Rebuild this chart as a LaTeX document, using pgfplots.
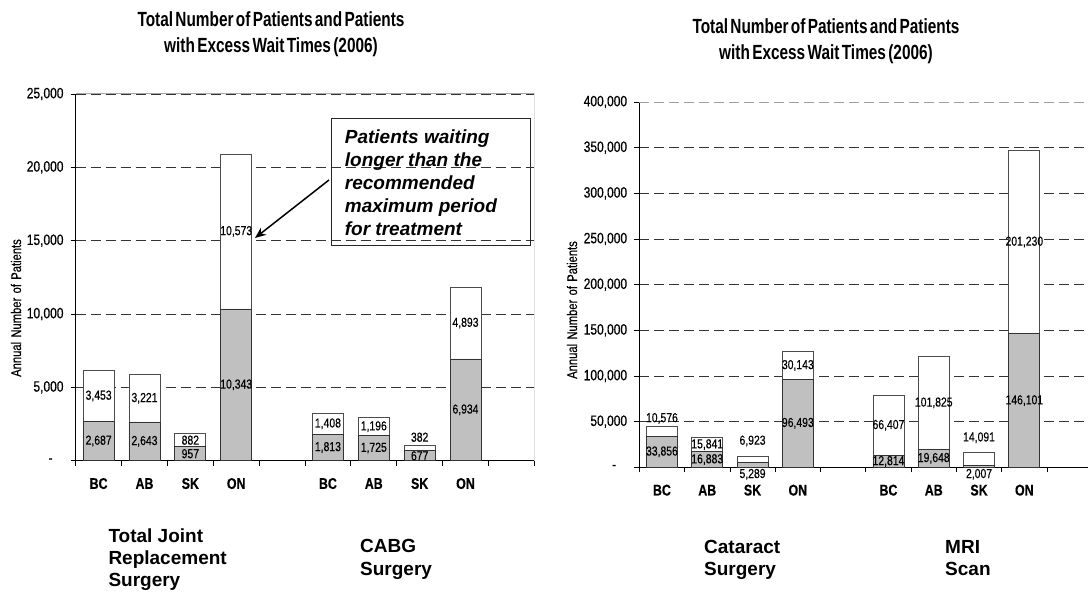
\documentclass[border=0pt]{standalone}
\usepackage{fontspec}
\setmainfont{Liberation Sans}
\newfontfamily\narrow[FakeStretch=0.8,FakeBold=0.4,WordSpace=1.4]{Liberation Sans}
\newfontfamily\titlefont[FakeStretch=0.75,WordSpace=0.55]{Liberation Sans}
\usepackage{pgfplots}
\pgfplotsset{compat=1.18}
\usetikzlibrary{arrows.meta}
\definecolor{barfill}{RGB}{192,192,192}

\pgfplotsset{
  waitbars/.style={
    scale only axis, anchor=south west,
    xmin=-0.5, xmax=9.5, ymin=0, enlarge x limits=false,
    scaled y ticks=false,
    axis lines*=left, axis line style={-, black, line width=1pt},
    ybar stacked, bar width=31pt,
    xtick={-0.5,0.5,...,9.5}, xticklabels={},
    extra x ticks={0,1,2,3,5,6,7,8},
    extra x tick labels={BC,AB,SK,ON,BC,AB,SK,ON},
    extra x tick style={major tick length=0pt,
      tick label style={font=\narrow\bfseries\fontsize{15.5}{16}\selectfont,
        anchor=north, inner sep=0pt, yshift=-17pt, text height=11pt}},
    tick align=outside, major tick length=5pt,
    tick style={black, line width=0.8pt},
    ymajorgrids, grid style={black!80, line width=0.7pt, dash pattern=on 10pt off 5pt},
    yticklabel style={font=\narrow\fontsize{15}{15}\selectfont, anchor=east, inner sep=0pt, xshift=-7pt},
  },
  labelax/.style={scale only axis, anchor=south west, xmin=-0.5, xmax=9.5, ymin=0,
    hide axis, clip=false},
  greybar/.style={fill=barfill, draw=black!80, line width=0.8pt},
  whitebar/.style={fill=white, draw=black!70, line width=0.8pt},
  barlbl/.style={only marks, mark=none, nodes near coords, point meta=explicit symbolic,
    every node near coord/.style={anchor=center, inner sep=0pt, black,
      font=\narrow\fontsize{13}{13}\selectfont}},
}

\begin{document}
\begin{tikzpicture}

% ---- left: joint replacement and CABG
\begin{axis}[waitbars, at={(75.7pt,131.3pt)}, width=458.6pt, height=366.7pt, ymax=25000,
  ytick={0,5000,...,25000},
  yticklabels={{-\hspace*{11pt}},{5,000},{10,000},{15,000},{20,000},{25,000}}]
\addplot[greybar] coordinates {(0,2687) (1,2643) (2,957) (3,10343) (5,1813) (6,1725) (7,677) (8,6934)};
\addplot[whitebar] coordinates {(0,3453) (1,3221) (2,882) (3,10573) (5,1408) (6,1196) (7,382) (8,4893)};
\draw[gray!70, line width=1pt] (rel axis cs:0,1) -- (rel axis cs:1,1) -- (rel axis cs:1,0);
\end{axis}
\begin{axis}[labelax, at={(75.7pt,131.3pt)}, width=458.6pt, height=366.7pt, ymax=25000]
\addplot[barlbl] table[meta=t, row sep=\\] {
x y t \\
0 1343.5 2,687 \\
0 4413.5 3,453 \\
1 1321.5 2,643 \\
1 4253.5 3,221 \\
2 478.5 957 \\
2 1398 882 \\
3 5171.5 10,343 \\
3 15629.5 10,573 \\
5 906.5 1,813 \\
5 2517 1,408 \\
6 862.5 1,725 \\
6 2323 1,196 \\
7 338.5 677 \\
7 1600 382 \\
8 3467 6,934 \\
8 9380.5 4,893 \\
};
\end{axis}

% ---- right: cataract and MRI
\begin{axis}[waitbars, at={(639.3pt,124.7pt)}, width=453pt, height=365.3pt, ymax=400000,
  ytick={0,50000,...,350000},
  yticklabels={{-\hspace*{11pt}},{50,000},{100,000},{150,000},{200,000},{250,000},{300,000},{350,000}},
  extra y ticks={400000}, extra y tick labels={400{,}000},
  extra y tick style={grid=major, grid style={gray!75, line width=0.9pt, dash pattern=on 10pt off 5pt}}]
\addplot[greybar] coordinates {(0,33856) (1,16883) (2,5289) (3,96493) (5,12814) (6,19648) (7,2007) (8,146101)};
\addplot[whitebar] coordinates {(0,10576) (1,15841) (2,6923) (3,30143) (5,66407) (6,101825) (7,14091) (8,201230)};
\end{axis}
\begin{axis}[labelax, at={(639.3pt,124.7pt)}, width=453pt, height=365.3pt, ymax=400000]
\addplot[barlbl] table[meta=t, row sep=\\] {
x y t \\
0 16928 33,856 \\
0 53500 10,576 \\
1 8441.5 16,883 \\
1 24803.5 15,841 \\
2 -7660 5,289 \\
2 28800 6,923 \\
3 48246.5 96,493 \\
3 111564.5 30,143 \\
5 6407 12,814 \\
5 46017.5 66,407 \\
6 9824 19,648 \\
6 70560.5 101,825 \\
7 -7660 2,007 \\
7 32400 14,091 \\
8 73050.5 146,101 \\
8 246716 201,230 \\
};
\end{axis}

% titles
\begin{scope}[every node/.style={anchor=base, font=\titlefont\bfseries\fontsize{20.5}{20}\selectfont}]
\node at (271pt,565pt) {Total Number of Patients and Patients};
\node at (271pt,539pt) {with Excess Wait Times (2006)};
\node at (826pt,558pt) {Total Number of Patients and Patients};
\node at (826pt,532pt) {with Excess Wait Times (2006)};
\end{scope}

% y axis titles
\node[rotate=90, font=\narrow\fontsize{14}{14}\selectfont] at (16pt,284pt) {Annual Number of Patients};
\node[rotate=90, font=\narrow\fontsize{14}{14}\selectfont] at (572pt,282pt) {Annual Number of Patients};

% group names
\begin{scope}[every node/.style={anchor=base west, inner sep=0pt, font=\bfseries\fontsize{19}{19}\selectfont}]
\node at (108.3pt,49.3pt) {Total Joint};
\node at (108.3pt,27.2pt) {Replacement};
\node at (108.3pt,5.1pt) {Surgery};
\node at (360pt,39pt) {CABG};
\node at (360pt,16.9pt) {Surgery};
\node at (704pt,38.5pt) {Cataract};
\node at (704pt,16.4pt) {Surgery};
\node at (945pt,38.5pt) {MRI};
\node at (945pt,16.4pt) {Scan};
\end{scope}

% annotation
\draw[black!85, line width=1pt] (331pt,346.3pt) rectangle (530pt,473.7pt);
\begin{scope}[every node/.style={anchor=base west, inner sep=0pt, font=\bfseries\itshape\fontsize{19}{19}\selectfont}]
\node at (344.7pt,448.7pt) {Patients waiting};
\node at (344.7pt,425.7pt) {longer than the};
\node at (344.7pt,402.7pt) {recommended};
\node at (344.7pt,379.7pt) {maximum period};
\node at (344.7pt,356.7pt) {for treatment};
\end{scope}
\draw[-{Stealth[length=11pt,width=9pt]}, line width=1.5pt] (329pt,412pt) -- (255pt,354pt);

\pgfresetboundingbox
\useasboundingbox (0pt,0pt) rectangle (1088pt,592pt);
\end{tikzpicture}
\end{document}
